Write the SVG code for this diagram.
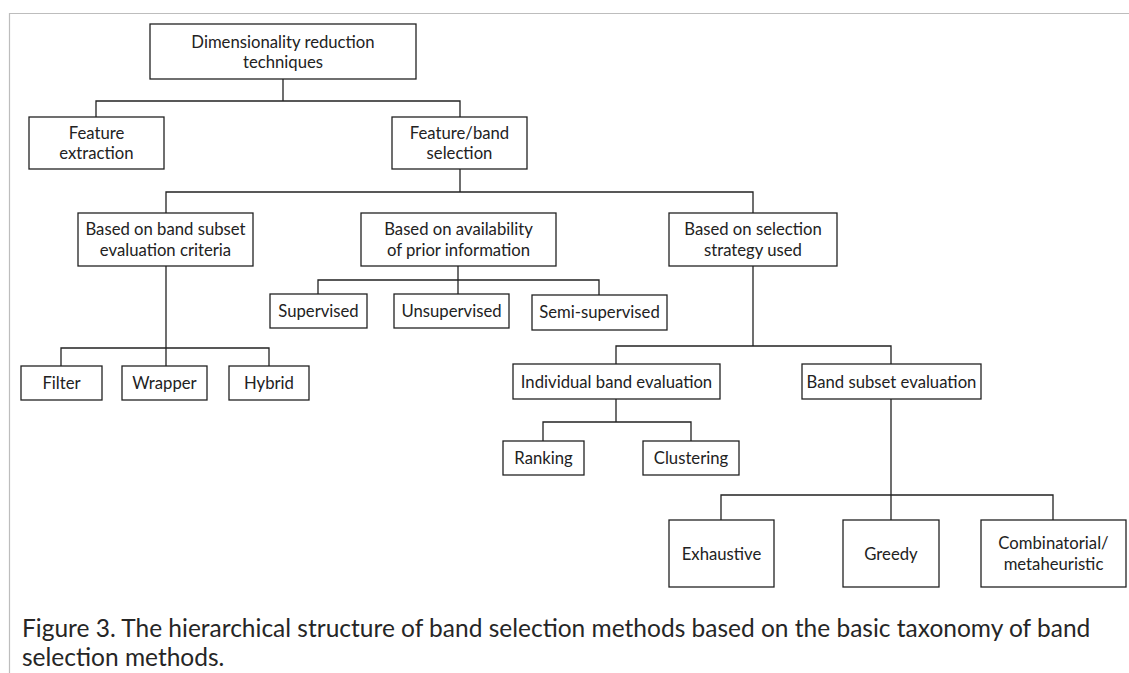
<svg xmlns="http://www.w3.org/2000/svg" width="1129" height="673" viewBox="0 0 1129 673">
<style>
.frame{stroke:#bdbdbd;stroke-width:1.2;fill:none}
.box{fill:#fff;stroke:#222;stroke-width:1.3}
.lbl{font-family:Lato,"Open Sans","Liberation Sans",sans-serif;font-size:16.7px;fill:#222;text-anchor:middle;dominant-baseline:central}
.cap{font-family:Lato,"Open Sans","Liberation Sans",sans-serif;font-size:24.5px;fill:#262626}
#connectors path{fill:none;stroke:#222;stroke-width:1.3}
</style>
<rect width="1129" height="673" fill="#fff"/>
<path class="frame" d="M9.5 673V13.5H1129"/>
<g id="connectors">
<path d="M283 79V101M96 117V101H460V117"/>
<path d="M460 169V192M166 213V192H753V213"/>
<path d="M166 266V366M61 366V348H269V366"/>
<path d="M458 266V294M318 294V280H599V295"/>
<path d="M753 266V346M616 364V346H891V364"/>
<path d="M616 399V422M543 441V422H691V441"/>
<path d="M891 399V520M721 520V495H1053V520"/>
</g>
<g id="n-root"><rect class="box" x="150" y="24" width="266" height="55"/><text class="lbl" x="283" y="42">Dimensionality reduction</text><text class="lbl" x="283" y="62">techniques</text></g>
<g id="n-fe"><rect class="box" x="29" y="117" width="135" height="52"/><text class="lbl" x="96.5" y="133">Feature</text><text class="lbl" x="96.5" y="153">extraction</text></g>
<g id="n-fbs"><rect class="box" x="392" y="117" width="135" height="52"/><text class="lbl" x="459.5" y="133">Feature/band</text><text class="lbl" x="459.5" y="153">selection</text></g>
<g id="n-crit"><rect class="box" x="78" y="213" width="175" height="53"/><text class="lbl" x="165.5" y="229">Based on band subset</text><text class="lbl" x="165.5" y="250">evaluation criteria</text></g>
<g id="n-avail"><rect class="box" x="361" y="213" width="195" height="53"/><text class="lbl" x="458.5" y="229">Based on availability</text><text class="lbl" x="458.5" y="250">of prior information</text></g>
<g id="n-strat"><rect class="box" x="669" y="213" width="168" height="53"/><text class="lbl" x="753" y="229">Based on selection</text><text class="lbl" x="753" y="250">strategy used</text></g>
<g id="n-filter"><rect class="box" x="21" y="366" width="81" height="34"/><text class="lbl" x="61.5" y="383">Filter</text></g>
<g id="n-wrapper"><rect class="box" x="122" y="366" width="85" height="34"/><text class="lbl" x="164.5" y="383">Wrapper</text></g>
<g id="n-hybrid"><rect class="box" x="229" y="366" width="80" height="34"/><text class="lbl" x="269" y="383">Hybrid</text></g>
<g id="n-sup"><rect class="box" x="270" y="294" width="97" height="34"/><text class="lbl" x="318.5" y="311">Supervised</text></g>
<g id="n-unsup"><rect class="box" x="394" y="294" width="115" height="34"/><text class="lbl" x="451.5" y="311">Unsupervised</text></g>
<g id="n-semi"><rect class="box" x="532" y="295" width="135" height="35"/><text class="lbl" x="599.5" y="312">Semi-supervised</text></g>
<g id="n-ind"><rect class="box" x="513" y="364" width="207" height="35"/><text class="lbl" x="616.5" y="381.5">Individual band evaluation</text></g>
<g id="n-bse"><rect class="box" x="802" y="364" width="179" height="35"/><text class="lbl" x="891.5" y="381.5">Band subset evaluation</text></g>
<g id="n-rank"><rect class="box" x="503" y="441" width="81" height="34"/><text class="lbl" x="543.5" y="458">Ranking</text></g>
<g id="n-clus"><rect class="box" x="643" y="441" width="96" height="34"/><text class="lbl" x="691" y="458">Clustering</text></g>
<g id="n-exh"><rect class="box" x="669" y="520" width="105" height="67"/><text class="lbl" x="721.5" y="553.5">Exhaustive</text></g>
<g id="n-greedy"><rect class="box" x="843" y="520" width="96" height="67"/><text class="lbl" x="891" y="553.5">Greedy</text></g>
<g id="n-comb"><rect class="box" x="981" y="520" width="145" height="67"/><text class="lbl" x="1053.5" y="543">Combinatorial/</text><text class="lbl" x="1053.5" y="564">metaheuristic</text></g>
<text class="cap" x="22" y="637">Figure 3. The hierarchical structure of band selection methods based on the basic taxonomy of band</text>
<text class="cap" x="22" y="666">selection methods.</text>
</svg>
